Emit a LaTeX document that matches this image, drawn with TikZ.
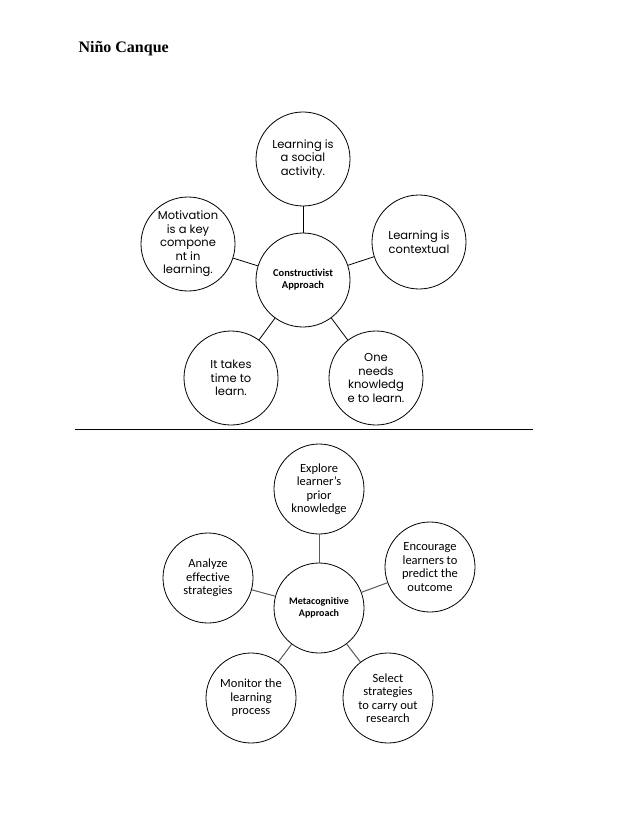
\documentclass[tikz,border=0pt]{standalone}
\usepackage{fontspec}
\setmainfont{Liberation Serif}
\newfontfamily\gothic{Poppins}
\newfontfamily\calib[Ligatures=NoCommon]{Carlito}

\begin{document}
\begin{tikzpicture}[x=1pt,y=-1pt,
        bubble/.style={draw,circle,line width=.8pt,minimum size=94pt,inner sep=0pt,align=center,
            font=\gothic\fontsize{11.5}{13.5}\selectfont},
        hub/.style={bubble,font=\calib\bfseries\fontsize{10.5}{12}\selectfont},
        cloud/.style={draw,circle,line width=.8pt,minimum size=90pt,inner sep=0pt,align=center,
            font=\calib\fontsize{12.5}{13.5}\selectfont},
        core/.style={cloud,font=\calib\bfseries\fontsize{10}{12.5}\selectfont},
        spoke/.style={line width=.8pt},
        greyspoke/.style={line width=1pt,black!65}]
        \useasboundingbox (0,0) rectangle (638,826);
        \node[anchor=base west,font=\bfseries\fontsize{16}{19}\selectfont] (name) at (75,53) {Niño Canque};
        % constructivist
        \node[hub] (cons) at (303,280) {Constructivist\\Approach};
        \node[bubble] (social) at (303,159) {Learning is\\a social\\activity.};
        \node[bubble] (context) at (419,242) {Learning is\\contextual};
        \node[bubble] (motiv) at (188,244) {Motivation\\is a key\\compone\\nt in\\learning.};
        \node[bubble] (time) at (231,378) {It takes\\time to\\learn.};
        \node[bubble] (know) at (376,378) {One\\needs\\knowledg\\e to learn.};
        \foreach \s in {social,context,motiv,time,know}
            \draw[spoke] (cons) -- (\s);
        \coordinate (rulel) at (75,429.5);
        \coordinate (ruler) at (533,429.5);
        \draw[line width=.8pt] (rulel) -- (ruler);
        % metacognitive
        \node[core] (meta) at (319,608) {Metacognitive\\Approach};
        \node[cloud] (explore) at (319,489) {Explore\\learner’s\\prior\\knowledge};
        \node[cloud] (encour) at (430,567) {Encourage\\learners to\\predict the\\outcome};
        \node[cloud] (analyze) at (208,578) {Analyze\\effective\\strategies};
        \node[cloud] (monitor) at (251,698) {Monitor the\\learning\\process};
        \node[cloud] (select) at (388,698) {Select\\strategies\\to carry out\\research};
        \foreach \s in {explore,encour,analyze,monitor,select}
            \draw[greyspoke] (meta) -- (\s);
\end{tikzpicture}
\end{document}
